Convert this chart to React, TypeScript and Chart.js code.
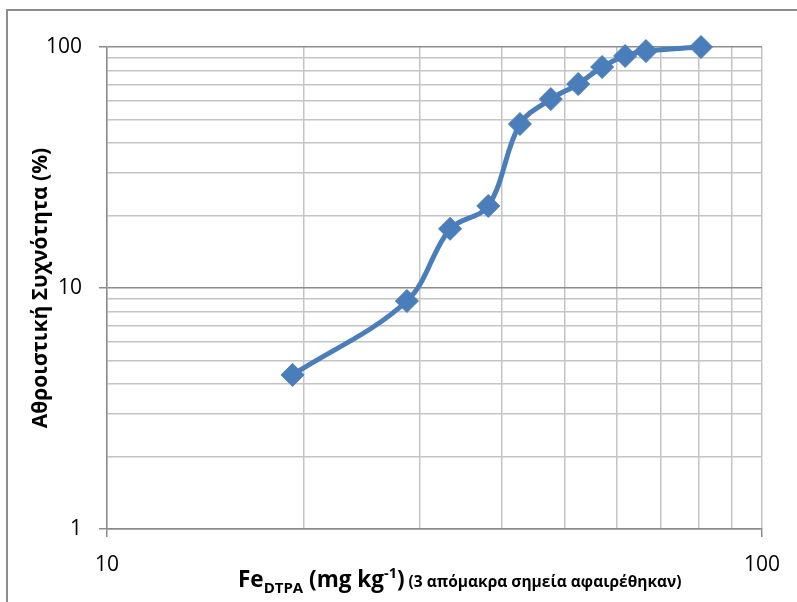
import React, { useEffect, useRef } from 'react';
import { Chart, registerables } from 'chart.js';

Chart.register(...registerables);

// ---- Data ----
const feValues = [19.2, 28.7, 33.4, 38.2, 42.7, 47.6, 52.4, 57.0, 61.8, 66.5, 80.7];
const cumulativeFreq = [4.36, 8.83, 17.6, 21.9, 47.9, 60.8, 70.2, 82.6, 91.8, 96.2, 100];
const xTickValues = [10, 20, 30, 40, 50, 60, 70, 80, 90, 100];
const yTickValues = [1, 2, 3, 4, 5, 6, 7, 8, 9, 10, 20, 30, 40, 50, 60, 70, 80, 90, 100];
const majorTickValues = [1, 10, 100];
const yAxisTitle = 'Αθροιστική Συχνότητα (%)';
const xTitleMain = 'Fe';
const xTitleSub = 'DTPA';
const xTitleUnitA = ' (mg kg';
const xTitleSup = '-1';
const xTitleUnitB = ')';
const xTitleNote = ' (3 απόμακρα σημεία αφαιρέθηκαν)';

const FONT = '"Open Sans", "Noto Sans", sans-serif';
const LINE_BLUE = '#4a7ebb';
const GRID_LIGHT = '#c4c4c4';
const GRID_DARK = '#8c8c8c';

const isMajor = (v: number) => majorTickValues.some((m) => Math.abs(m - v) < 1e-9);

const decorPlugin = {
  id: 'decor',
  beforeDraw(chart: any) {
    const ctx = chart.ctx as CanvasRenderingContext2D;
    ctx.save();
    ctx.fillStyle = '#ffffff';
    ctx.fillRect(0, 0, chart.width, chart.height);
    ctx.strokeStyle = '#8c8c8c';
    ctx.lineWidth = 2;
    ctx.beginPath();
    ctx.moveTo(7, chart.height + 2);
    ctx.lineTo(7, 10);
    ctx.lineTo(chart.width + 2, 10);
    ctx.stroke();
    ctx.restore();
  },
  afterDraw(chart: any) {
    const ctx = chart.ctx as CanvasRenderingContext2D;
    ctx.save();
    ctx.fillStyle = '#000000';
    ctx.save();
    ctx.translate(47, 288);
    ctx.rotate(-Math.PI / 2);
    ctx.font = `bold 21px ${FONT}`;
    ctx.textAlign = 'center';
    ctx.textBaseline = 'alphabetic';
    ctx.fillText(yAxisTitle, 0, 0);
    ctx.restore();

    const base = 587;
    const parts: [string, number, number][] = [
      [xTitleMain, 22.5, 0],
      [xTitleSub, 15, 6],
      [xTitleUnitA, 22.5, 0],
      [xTitleSup, 14.5, -9],
      [xTitleUnitB, 22.5, 0],
      [xTitleNote, 15.5, 0],
    ];
    ctx.textAlign = 'left';
    ctx.textBaseline = 'alphabetic';
    let x = 238;
    for (const [t, size, dy] of parts) {
      ctx.font = `bold ${size}px ${FONT}`;
      ctx.fillText(t, x, base + dy);
      x += ctx.measureText(t).width;
    }
    ctx.restore();
  },
};

export default function App() {
  const canvasRef = useRef<HTMLCanvasElement | null>(null);

  useEffect(() => {
    document.body.style.margin = '0';
    const canvas = canvasRef.current;
    if (!canvas) return;
    const points = feValues.map((x, i) => ({ x, y: cumulativeFreq[i] }));
    const chart = new Chart(canvas, {
      type: 'line',
      data: {
        datasets: [
          {
            data: points,
            borderColor: LINE_BLUE,
            backgroundColor: LINE_BLUE,
            borderWidth: 5,
            tension: 0.35,
            clip: false,
            pointStyle: 'rectRot',
            pointRadius: 11.5,
            pointBorderWidth: 1,
            pointBackgroundColor: LINE_BLUE,
            pointBorderColor: LINE_BLUE,
            fill: false,
          },
        ],
      },
      options: {
        animation: false,
        responsive: false,
        maintainAspectRatio: false,
        events: [],
        layout: { padding: { top: 47, right: 35, left: 0, bottom: 0 } },
        plugins: {
          legend: { display: false },
          tooltip: { enabled: false },
          title: { display: false },
        },
        scales: {
          x: {
            type: 'logarithmic',
            min: 10,
            max: 100,
            afterBuildTicks: (s: any) => {
              s.ticks = xTickValues.map((v) => ({ value: v }));
            },
            afterFit: (s: any) => {
              s.height = 73;
            },
            ticks: {
              autoSkip: false,
              maxRotation: 0,
              minRotation: 0,
              padding: 15,
              color: '#000000',
              font: { family: FONT, size: 21 },
              callback: (v: any) => (isMajor(Number(v)) ? String(v) : ''),
            },
            grid: {
              color: GRID_LIGHT,
              lineWidth: 1.5,
              tickLength: 8,
              tickColor: (c: any) => (c.tick && isMajor(c.tick.value) ? GRID_DARK : 'rgba(0,0,0,0)'),
              tickWidth: 1.5,
            },
            border: { color: GRID_DARK, width: 1.5 },
          },
          y: {
            type: 'logarithmic',
            min: 1,
            max: 100,
            afterBuildTicks: (s: any) => {
              s.ticks = yTickValues.map((v) => ({ value: v }));
            },
            afterFit: (s: any) => {
              s.width = 107;
            },
            ticks: {
              autoSkip: false,
              padding: 17,
              color: '#000000',
              font: { family: FONT, size: 21 },
              callback: (v: any) => (isMajor(Number(v)) ? String(v) : ''),
            },
            grid: {
              color: (c: any) => (c.tick && isMajor(c.tick.value) ? GRID_DARK : GRID_LIGHT),
              lineWidth: 1.5,
              tickLength: 8,
              tickColor: (c: any) => (c.tick && isMajor(c.tick.value) ? GRID_DARK : 'rgba(0,0,0,0)'),
              tickWidth: 1.5,
            },
            border: { color: GRID_DARK, width: 1.5 },
          },
        },
      },
      plugins: [decorPlugin],
    } as any);
    return () => chart.destroy();
  }, []);

  return (
    <div style={{ width: 797, height: 602 }}>
      <canvas ref={canvasRef} width={797} height={602} style={{ display: 'block', width: 797, height: 602 }} />
    </div>
  );
}
